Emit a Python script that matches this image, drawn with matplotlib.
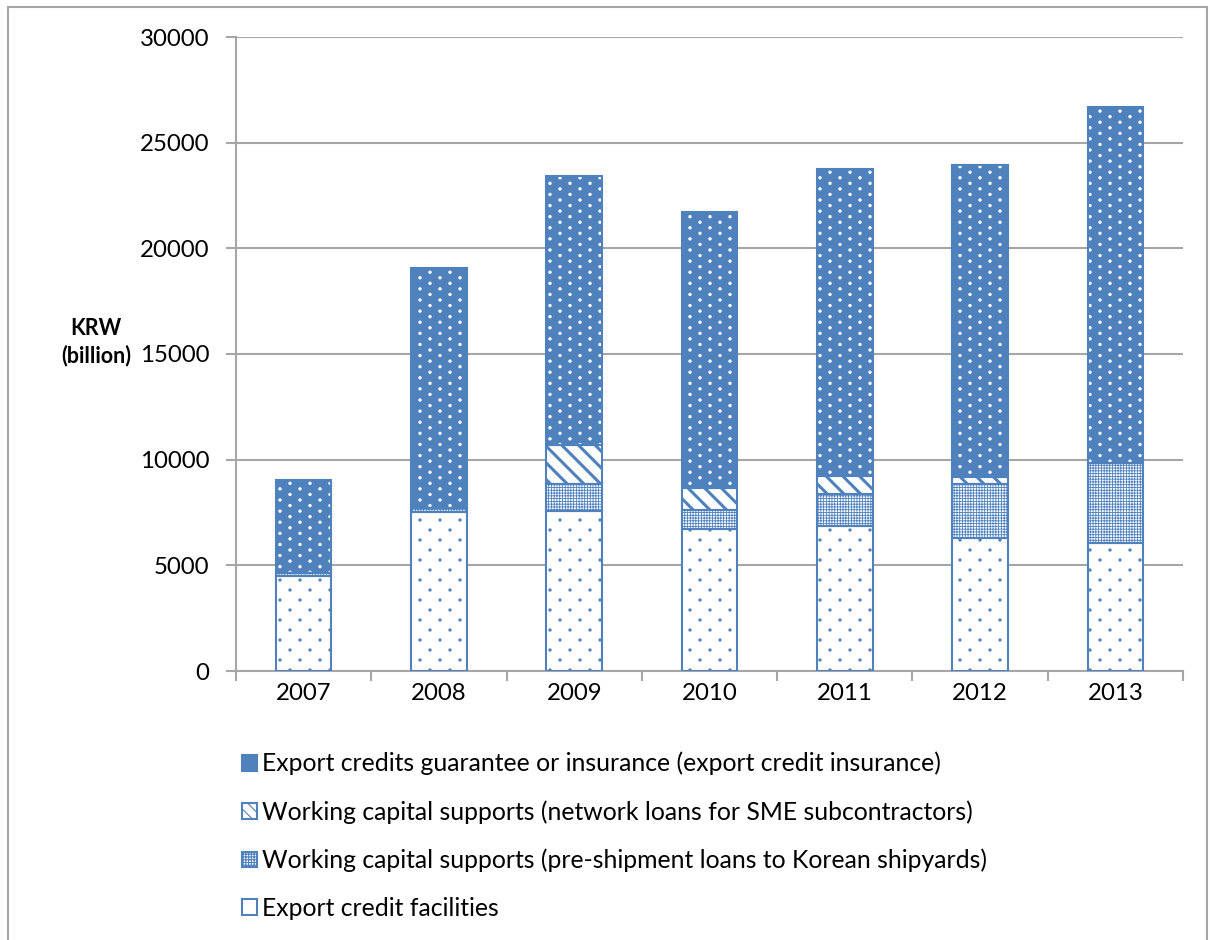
import matplotlib.pyplot as plt
import matplotlib.patches as mpatches
import matplotlib.hatch as mhatch
from matplotlib.lines import Line2D
from matplotlib.path import Path
import numpy as np

plt.rcParams['font.family'] = ['Lato', 'DejaVu Sans']
plt.rcParams['hatch.linewidth'] = 0.8

# Datos (miles de millones de KRW)
anios = ['2007', '2008', '2009', '2010', '2011', '2012', '2013']
facilidades = [4500, 7520, 7570, 6720, 6860, 6290, 6060]
pre_embarque = [130, 190, 1280, 900, 1520, 2560, 3780]
red_pymes = [0, 0, 1850, 1040, 850, 330, 0]
seguro = [4400, 11360, 12720, 13060, 14530, 14770, 16850]

etiquetas = [
    'Export credits guarantee or insurance (export credit insurance)',
    'Working capital supports (network loans for SME subcontractors)',
    'Working capital supports (pre-shipment loans to Korean shipyards)',
    'Export credit facilities',
]

azul = '#4F81BD'


class PuntosEscalonados(mhatch.HatchPatternBase):
    # Puntos rellenos en filas alternadas: '.' ralo, '..' denso en vertical
    radio = 0.011
    columnas = 5

    def __init__(self, hatch, density):
        n = hatch.count('.')
        self.filas = {0: 0, 1: 10}.get(n, 18)
        circulo = Path.unit_circle()
        self.forma_v = circulo.vertices * self.radio
        self.forma_c = circulo.codes
        self.posiciones = []
        if self.filas:
            for fila in range(self.filas + 1):
                y = fila / self.filas
                if fila % 2 == 0:
                    xs = np.linspace(0, 1, self.columnas + 1)
                else:
                    xs = (np.arange(self.columnas) + 0.5) / self.columnas
                self.posiciones += [(x, y) for x in xs]
        self.num_vertices = len(self.posiciones) * len(self.forma_v)

    def set_vertices_and_codes(self, vertices, codes):
        partes_v = [self.forma_v + p for p in self.posiciones]
        partes_c = [self.forma_c] * len(self.posiciones)
        np.concatenate(partes_v, out=vertices)
        np.concatenate(partes_c, out=codes)


mhatch._hatch_types[:] = [PuntosEscalonados if t is mhatch.SmallFilledCircles else t
                          for t in mhatch._hatch_types]

fig = plt.figure(figsize=(12.1, 9.4), dpi=100)
ax = fig.add_axes([236 / 1210, 1 - 671 / 940, (1183 - 236) / 1210, (671 - 37) / 940])

x = np.arange(len(anios))
ancho = 0.41

fac = np.array(facilidades)
pre = np.array(pre_embarque)
red = np.array(red_pymes)
seg = np.array(seguro)

# Capas apiladas
ax.bar(x, fac, ancho, color='white', edgecolor=azul, hatch='.', linewidth=0, zorder=3)
with plt.rc_context({'hatch.linewidth': 0.6}):
    ax.bar(x, pre, ancho, bottom=fac, color='white', edgecolor=azul, hatch='++++++',
           linewidth=0, zorder=3)
with plt.rc_context({'hatch.linewidth': 2.2}):
    ax.bar(x, red, ancho, bottom=fac + pre, color='white', edgecolor=azul,
           hatch='\\\\', linewidth=0, zorder=3)
ax.bar(x, seg, ancho, bottom=fac + pre + red, color=azul, edgecolor='white', hatch='..', linewidth=0, zorder=3)

# Bordes de cada segmento
for valores, base in [(fac, 0), (pre, fac), (red, fac + pre), (seg, fac + pre + red)]:
    ax.bar(x, valores, ancho, bottom=base, fill=False, edgecolor=azul, linewidth=1.5, zorder=4)

ax.set_ylim(0, 30000)
ax.set_xlim(-0.5, len(anios) - 0.5)
ax.set_yticks(range(0, 30001, 5000))
ax.set_xticks(x)
ax.set_xticklabels(anios)
ax.set_xticks(np.arange(-0.5, len(anios)), minor=True)

ax.tick_params(axis='x', which='major', length=0, labelsize=17.3, pad=9)
ax.tick_params(axis='x', which='minor', length=7, width=1.5, color='#A6A6A6')
ax.tick_params(axis='y', length=7, width=1.5, color='#A6A6A6', labelsize=17.3, pad=12)

ax.grid(axis='y', color='#A6A6A6', linewidth=1.5, zorder=0)
ax.set_axisbelow(True)
for lado in ['top', 'right']:
    ax.spines[lado].set_visible(False)
for lado in ['left', 'bottom']:
    ax.spines[lado].set_color('#A6A6A6')
    ax.spines[lado].set_linewidth(1.5)

fig.text(96 / 1210, 1 - 342 / 940, 'KRW\n(billion)', ha='center', va='center',
         fontsize=15.5, fontweight='bold', linespacing=1.3)

# Leyenda
h_seg = mpatches.Patch(facecolor=azul, edgecolor=azul, linewidth=1.5)
with plt.rc_context({'hatch.linewidth': 1.6}):
    h_red = mpatches.Patch(facecolor='white', edgecolor=azul, hatch='\\\\\\', linewidth=1.5)
with plt.rc_context({'hatch.linewidth': 0.6}):
    h_pre = mpatches.Patch(facecolor='white', edgecolor=azul, hatch='++++++', linewidth=1.5)
h_fac = mpatches.Patch(facecolor='white', edgecolor=azul, linewidth=1.5)
fig.legend([h_seg, h_red, h_pre, h_fac], etiquetas, loc='upper left',
           bbox_to_anchor=(232 / 1210, 1 - 742 / 940), frameon=False, fontsize=17.8,
           handlelength=0.6, handleheight=0.6, handletextpad=0.2, labelspacing=1.0,
           borderaxespad=0)

# Marco exterior
for xs, ys in [([8, 8], [7, 940]), ([8, 1207], [7, 7]), ([1207, 1207], [7, 940])]:
    fig.add_artist(Line2D([v / 1210 for v in xs], [1 - v / 940 for v in ys],
                          color='#A6A6A6', linewidth=1.5))

plt.savefig('out.png', dpi=100)
